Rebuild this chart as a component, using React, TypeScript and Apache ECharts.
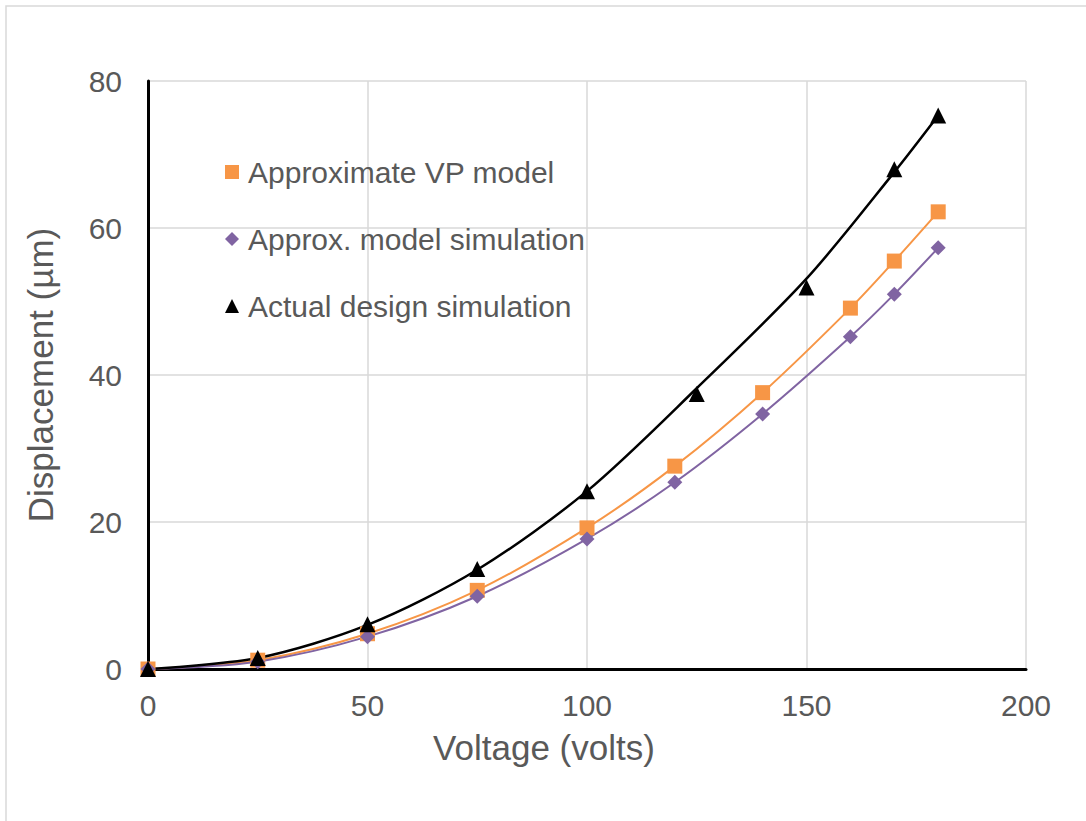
import React, { useEffect, useRef } from "react";
import * as echarts from "echarts";

const seriesNames = ["Approximate VP model", "Approx. model simulation", "Actual design simulation"];
const modelVoltage = [0, 25, 50, 75, 100, 120, 140, 160, 170, 180];
const approxVP = [0, 1.2, 4.8, 10.7, 19.2, 27.6, 37.6, 49.1, 55.5, 62.2];
const approxSim = [0, 1.0, 4.4, 9.9, 17.7, 25.4, 34.7, 45.2, 51.0, 57.3];
const actualVoltage = [0, 25, 50, 75, 100, 125, 150, 170, 180];
const actualSim = [0, 1.5, 6.1, 13.6, 24.2, 37.4, 51.9, 68.0, 75.3];
// trend curve drawn through the actual-design markers
const actualTrend = [0, 1.5, 6.0, 13.5, 24.2, 38.2, 53.1, 67.6, 75.3];

const pair = (xs: number[], ys: number[]) => xs.map((x, i) => [x, ys[i]]);

const textColor = "#595959";
const font = "'Liberation Sans', Arial, sans-serif";

export default function App() {
  const ref = useRef<HTMLDivElement>(null);
  useEffect(() => {
    if (!ref.current) return;
    const chart = echarts.init(ref.current, undefined, { renderer: "svg" });
    chart.setOption({
      animation: false,
      backgroundColor: "#fff",
      textStyle: { fontFamily: font },
      graphic: [
        {
          type: "rect",
          shape: { x: 6, y: 6, width: 1200, height: 1200 },
          style: { fill: "none", stroke: "#d9d9d9", lineWidth: 1.5 },
          silent: true,
        },
      ],
      grid: { left: 148, top: 81, right: 60, bottom: 152 },
      legend: {
        orient: "vertical",
        left: 220,
        top: 152,
        itemWidth: 14,
        itemHeight: 14,
        itemGap: 37,
        textStyle: { color: textColor, fontSize: 30, lineHeight: 30, fontFamily: font, padding: [0, 0, 0, 4] },
        data: [
          { name: seriesNames[0], icon: "rect" },
          { name: seriesNames[1], icon: "diamond" },
          { name: seriesNames[2], icon: "triangle" },
        ],
      },
      xAxis: {
        type: "value",
        min: 0,
        max: 200,
        interval: 50,
        name: "Voltage (volts)",
        nameLocation: "middle",
        nameGap: 61,
        nameTextStyle: { color: textColor, fontSize: 35, fontFamily: font, padding: [0, 86, 0, 0] },
        axisLine: { show: true, onZero: false, lineStyle: { color: "#000", width: 3 } },
        axisTick: { show: false },
        axisLabel: { color: textColor, fontSize: 30, margin: 21, fontFamily: font },
        splitLine: { show: true, showMinLine: true, showMaxLine: true, lineStyle: { color: "#d9d9d9", width: 1.5 } },
      },
      yAxis: {
        type: "value",
        min: 0,
        max: 80,
        interval: 20,
        name: "Displacement (µm)",
        nameLocation: "middle",
        nameGap: 90,
        nameTextStyle: { color: textColor, fontSize: 35, fontFamily: font },
        axisLine: { show: true, onZero: false, lineStyle: { color: "#000", width: 3 } },
        axisTick: { show: false },
        axisLabel: { color: textColor, fontSize: 30, margin: 26, fontFamily: font },
        splitLine: { show: true, showMinLine: true, showMaxLine: true, lineStyle: { color: "#d9d9d9", width: 1.5 } },
      },
      series: [
        {
          name: seriesNames[0],
          type: "line",
          smooth: 0.3,
          data: pair(modelVoltage, approxVP),
          symbol: "rect",
          symbolSize: 15,
          itemStyle: { color: "#F79646" },
          lineStyle: { color: "#F79646", width: 2 },
        },
        {
          name: seriesNames[1],
          type: "line",
          smooth: 0.3,
          data: pair(modelVoltage, approxSim),
          symbol: "diamond",
          symbolSize: 15,
          itemStyle: { color: "#8064A2" },
          lineStyle: { color: "#8064A2", width: 2 },
        },
        {
          name: "Actual design trend",
          type: "line",
          smooth: 0.3,
          data: pair(actualVoltage, actualTrend),
          showSymbol: false,
          symbol: "none",
          lineStyle: { color: "#000", width: 2.5 },
          itemStyle: { color: "#000" },
          z: 3,
        },
        {
          name: seriesNames[2],
          type: "scatter",
          data: pair(actualVoltage, actualSim),
          symbol: "triangle",
          symbolSize: 16,
          itemStyle: { color: "#000", opacity: 1 },
          z: 4,
        },
      ],
    });
    return () => chart.dispose();
  }, []);
  return <div ref={ref} style={{ position: "absolute", left: 0, top: 0, width: 1086, height: 821 }} />;
}
